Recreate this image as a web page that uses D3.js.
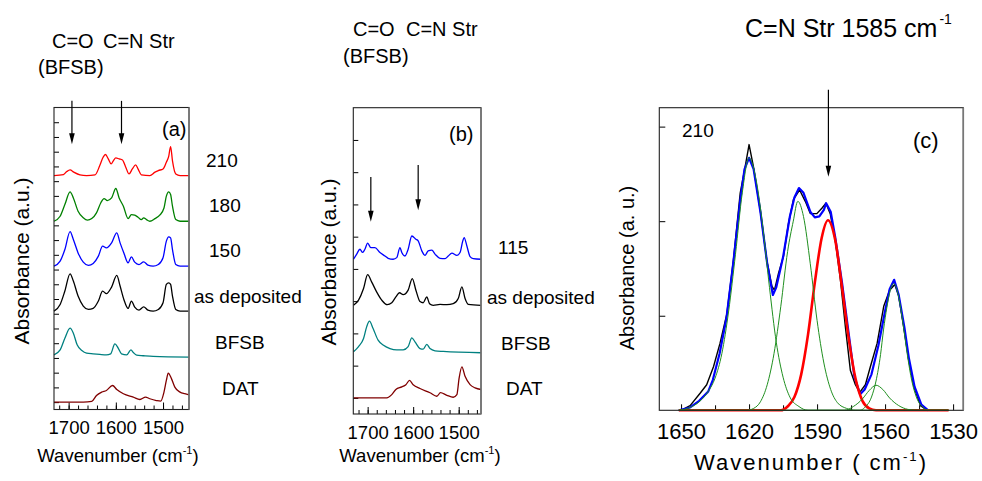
<!DOCTYPE html>
<html>
<head>
<meta charset="utf-8">
<script src="https://cdn.jsdelivr.net/npm/d3@7"></script>
<style>
  body { margin: 0; background: #fff; }
  svg { font-family: "Liberation Sans", Arial, sans-serif; }
</style>
</head>
<body>
<svg id="chart" width="982" height="481"></svg>
<script>
// ---- panel (a): stacked FTIR spectra, [wavenumber, absorbance above own baseline]
const labelsA = ["210", "180", "150", "as deposited", "BFSB", "DAT"];
const colorsA = ["#ff0000", "#008000", "#0000ff", "#000000", "#008080", "#800000"];
const offsetsA = [15.38, 12.28, 9.23, 6.18, 3.1, 0];
const spec210A = [[1731,0],[1711,0.07],[1704,0.27],[1697,0.38],[1689,0.23],[1676,0.05],[1662,0],[1644,0.05],[1634,0.68],[1627,1.24],[1622,1.43],[1616,1.13],[1610,0.79],[1605,1.02],[1600,1.2],[1593,1.13],[1586,1.06],[1579,0.57],[1572,0.11],[1565,0.45],[1558,0.72],[1553,0.45],[1546,0.05],[1528,0],[1517,0.23],[1510,0.34],[1500,0.45],[1493,0.9],[1488,1.3],[1484,1.97],[1480,1.0],[1473,0.11],[1464,0],[1445,0]];
const spec180A = [[1731,0],[1718,0.34],[1708,1.13],[1697,1.99],[1690,1.58],[1680,0.68],[1669,0.23],[1660,0.07],[1651,0.18],[1641,0.57],[1632,1.24],[1625,1.54],[1618,1.4],[1609,1.58],[1600,2.22],[1593,1.58],[1584,1.02],[1574,0.18],[1567,0.45],[1560,0.41],[1553,0.27],[1546,0.11],[1541,0.23],[1535,0.11],[1528,0],[1517,0.18],[1507,0.41],[1498,0.9],[1493,1.7],[1488,1.99],[1484,1.81],[1480,1.02],[1473,0.11],[1464,0],[1445,0]];
const spec150A = [[1731,0],[1718,0.34],[1708,1.13],[1697,2.35],[1690,1.81],[1680,0.9],[1669,0.27],[1658,0.05],[1648,0.18],[1637,0.68],[1628,1.36],[1620,1.24],[1609,1.58],[1598,2.26],[1591,1.58],[1583,0.9],[1574,0.23],[1567,0.63],[1560,0.27],[1551,0.11],[1541,0.29],[1532,0.07],[1521,0],[1510,0.11],[1500,0.57],[1493,1.7],[1488,1.99],[1484,1.92],[1480,1.13],[1473,0.11],[1464,0],[1445,0]];
const specDepA = [[1731,0],[1718,0.45],[1708,1.36],[1697,2.53],[1690,2.04],[1680,1.02],[1669,0.34],[1658,0.11],[1648,0.18],[1637,0.68],[1628,1.36],[1620,1.18],[1609,1.63],[1598,2.42],[1591,1.7],[1583,0.79],[1574,0.18],[1567,0.68],[1560,0.27],[1551,0.07],[1541,0.29],[1532,0.07],[1521,0],[1510,0.11],[1500,0.57],[1493,1.81],[1488,1.92],[1484,1.81],[1480,1.02],[1473,0.11],[1464,0],[1445,0]];
const specBfsbA = [[1731,0.11],[1718,0.45],[1708,1.24],[1697,1.92],[1690,1.58],[1682,0.79],[1672,0.41],[1662,0.23],[1648,0.18],[1634,0.14],[1620,0.11],[1611,0.18],[1602,0.86],[1595,0.57],[1588,0.18],[1577,0.11],[1568,0.45],[1563,0.27],[1556,0.09],[1542,0.05],[1521,0],[1445,-0.05]];
const specDatA = [[1731,0],[1669,0],[1651,0.05],[1641,0.45],[1630,0.68],[1620,0.79],[1607,1.13],[1598,0.86],[1584,0.57],[1563,0.34],[1549,0.18],[1537,0.34],[1528,0.23],[1514,0.11],[1505,0.07],[1498,0.68],[1493,1.47],[1489,1.97],[1482,1.58],[1475,1.02],[1464,0.68],[1454,0.57],[1445,0.5]];
const arrowsA = [[1693, 20.45, 17.5], [1588, 20.45, 17.5]];
const xTicksAB = [1700, 1600, 1500];

// ---- panel (b)
const labelsB = ["115", "as deposited", "BFSB", "DAT"];
const colorsB = ["#0000ff", "#000000", "#008080", "#800000"];
const offsetsB = [4.3, 2.87, 1.43, 0];
const spec115B = [[1731,0],[1724,0.16],[1717,0.31],[1711,0.21],[1706,0.31],[1700,0.5],[1693,0.36],[1684,0.36],[1673,0.21],[1662,0.1],[1655,0.03],[1644,0],[1636,0.05],[1629,0.36],[1625,0.21],[1618,0.1],[1611,0.31],[1603,0.72],[1594,0.62],[1589,0.57],[1581,0.26],[1574,0.12],[1567,0.26],[1559,0.28],[1552,0.16],[1541,0.03],[1530,0.02],[1523,0.1],[1515,0.19],[1504,0.12],[1497,0.21],[1491,0.57],[1488,0.67],[1482,0.41],[1475,0.08],[1468,0.02],[1451,0]];
const specDepB = [[1731,0],[1720,0.16],[1709,0.52],[1700,0.95],[1691,0.72],[1680,0.41],[1669,0.16],[1657,0.02],[1647,0.08],[1638,0.26],[1630,0.39],[1622,0.33],[1611,0.47],[1602,0.83],[1594,0.47],[1585,0.12],[1578,0.08],[1570,0.26],[1564,0.05],[1556,0],[1541,0.03],[1526,0.02],[1512,0.05],[1501,0.21],[1493,0.57],[1486,0.21],[1479,0.03],[1451,0]];
const specBfsbB = [[1731,0],[1720,0.16],[1709,0.41],[1702,0.78],[1696,0.95],[1688,0.72],[1677,0.36],[1666,0.21],[1651,0.1],[1636,0.06],[1622,0.06],[1611,0.16],[1603,0.43],[1596,0.31],[1585,0.1],[1578,0.08],[1570,0.23],[1563,0.1],[1552,0.03],[1534,0.01],[1451,-0.03]];
const specDatB = [[1731,0],[1658,0],[1647,0.1],[1638,0.26],[1625,0.34],[1616,0.41],[1608,0.54],[1600,0.41],[1585,0.29],[1563,0.16],[1548,0.05],[1540,0.16],[1526,0.08],[1512,0.02],[1504,0.1],[1499,0.62],[1493,0.96],[1486,0.67],[1475,0.41],[1464,0.31],[1451,0.26]];
const arrowsB = [[1693, 6.85, 5.46], [1589, 7.22, 5.82]];

// ---- panel (c): peak fit of the 210 spectrum
const measuredC = [[1650,0],[1646,0.05],[1641.6,0.18],[1638.7,0.27],[1635.7,0.46],[1632.8,0.71],[1629.8,1.02],[1626.9,1.59],[1623.9,2.3],[1621.7,2.58],[1620,2.81],[1618.1,2.58],[1615.1,2.12],[1612.2,1.59],[1609.9,1.31],[1608.8,1.27],[1607,1.45],[1604.8,1.63],[1602.6,1.98],[1600.4,2.23],[1597.7,2.33],[1595.2,2.21],[1593,2.08],[1590.1,2.08],[1587.8,2.14],[1586.1,2.19],[1584.2,2.08],[1582,1.8],[1579.7,1.38],[1577.5,0.88],[1575.3,0.42],[1573.1,0.27],[1571.2,0.19],[1568.7,0.27],[1566.5,0.46],[1563.5,0.71],[1560.6,1.1],[1558,1.27],[1555.7,1.33],[1554,1.21],[1551.8,0.88],[1549.6,0.53],[1547.3,0.25],[1544.4,0.05],[1541.5,0]];
const fitSumC = [[1651,0],[1646,0.03],[1642,0.1],[1638,0.2],[1636,0.32],[1633,0.6],[1630,0.97],[1627,1.55],[1624,2.2],[1622,2.55],[1620,2.67],[1618,2.55],[1615,2.1],[1612,1.55],[1609.5,1.22],[1608,1.3],[1605,1.62],[1602,2.05],[1600,2.25],[1598,2.35],[1596,2.3],[1593,2.1],[1591,2.04],[1589,2.05],[1587,2.12],[1586,2.19],[1584,2.1],[1582,1.83],[1579,1.35],[1576,0.8],[1573.5,0.35],[1571,0.17],[1569,0.22],[1566,0.38],[1563,0.68],[1560,1.05],[1558,1.28],[1556,1.38],[1554,1.22],[1551.5,0.88],[1549.5,0.55],[1547,0.25],[1544,0.06],[1541,0]];
const peak1620C = [[1651,0],[1646,0.03],[1642,0.09],[1638,0.2],[1635,0.34],[1632,0.6],[1629,1.05],[1626,1.65],[1623,2.3],[1620,2.67],[1617,2.45],[1614,1.95],[1611,1.3],[1608,0.72],[1605,0.35],[1602,0.14],[1598,0.04],[1594,0],[1532,0]];
const peak1598C = [[1651,0],[1621,0],[1618,0.02],[1615,0.09],[1612,0.27],[1609,0.6],[1606,1.1],[1603,1.68],[1600.5,2.0],[1598.5,2.21],[1596,2.05],[1593,1.55],[1590,0.95],[1587,0.5],[1584,0.22],[1581,0.08],[1577,0.02],[1573,0],[1532,0]];
const peak1585C = [[1651,0],[1606,0],[1603,0.04],[1600,0.14],[1597,0.38],[1594,0.8],[1591,1.35],[1588,1.82],[1585.2,2.01],[1582,1.8],[1579,1.3],[1576,0.75],[1573,0.33],[1570,0.1],[1567,0.02],[1564,0],[1532,0]];
const peak1564C = [[1651,0],[1578,0],[1574,0.04],[1570,0.12],[1567,0.21],[1564,0.265],[1561,0.22],[1558,0.13],[1554,0.05],[1550,0.01],[1546,0],[1532,0]];
const peak1556C = [[1651,0],[1571,0],[1569,0.03],[1566,0.14],[1564,0.31],[1562,0.59],[1560.7,0.85],[1559.2,1.09],[1557.7,1.27],[1556.2,1.34],[1554.7,1.27],[1553.2,1.09],[1551.7,0.85],[1550.2,0.59],[1548.2,0.31],[1546.2,0.14],[1543.2,0.03],[1541,0],[1532,0]];
const xTicksC = [1650, 1620, 1590, 1560, 1530];
const arrowC = [1585, 3.39, 2.47];

const svg = d3.select("#chart");

function txt(x, y, s, size) {
  return svg.append("text").attr("x", x).attr("y", y).attr("font-size", size).attr("fill", "#000").text(s);
}

function frame(g, w, h) {
  g.append("rect").attr("width", w).attr("height", h)
    .attr("fill", "none").attr("stroke", "#222").attr("stroke-width", 1.1);
  g.append("line").attr("x1", w).attr("x2", w).attr("y1", 0).attr("y2", h)
    .attr("stroke", "#777").attr("stroke-width", 1.6);
}

function arrow(g, x, y0, y1) {
  g.append("line").attr("x1", x).attr("x2", x).attr("y1", y0).attr("y2", y1 - 10)
    .attr("stroke", "#000").attr("stroke-width", 1.2);
  g.append("path").attr("d", `M${x - 2.8},${y1 - 11}L${x + 2.8},${y1 - 11}L${x},${y1}Z`).attr("fill", "#000");
}

// d3 axes put font-family="sans-serif" on their group; drop it so the page font applies
function plain(a) {
  a.attr("font-family", null).select(".domain").remove();
}

function stackPanel(cfg) {
  const g = svg.append("g").attr("transform", `translate(${cfg.left},${cfg.top})`);
  const x = d3.scaleLinear().domain(cfg.xDomain).range([0, cfg.width]);
  const y = d3.scaleLinear().domain(cfg.yDomain).range([cfg.height, 0]);

  g.append("g").attr("transform", `translate(0,${cfg.height})`)
    .call(d3.axisBottom(x).tickValues(d3.range(1720, 1440, -20)).tickSize(-4).tickFormat(""))
    .call(plain);
  g.append("g").attr("transform", `translate(0,${cfg.height})`)
    .call(d3.axisBottom(x).tickValues(xTicksAB).tickSize(-7).tickPadding(cfg.labelPad).tickFormat(d3.format("d")))
    .call(plain)
    .call(a => a.selectAll("text").attr("font-size", 18.5));
  g.append("g")
    .call(d3.axisLeft(y).tickValues(d3.range(0, cfg.nTicks)).tickSize(-5).tickFormat(""))
    .call(plain);

  const line = d3.line().curve(d3.curveMonotoneX);
  cfg.spectra.forEach((s, i) => {
    g.append("path")
      .attr("d", line(s.map(d => [x(d[0]), y(d[1] + cfg.offsets[i])])))
      .attr("fill", "none").attr("stroke", cfg.colors[i]).attr("stroke-width", 1.3);
  });
  frame(g, cfg.width, cfg.height);
  cfg.arrows.forEach(a => arrow(g, x(a[0]), y(a[1]), y(a[2])));
  cfg.labels.forEach((l, i) => {
    txt(cfg.labelX[i], cfg.top + y(cfg.offsets[i]) + cfg.labelDy[i], l, 19);
  });
}

stackPanel({
  left: 54, top: 107.5, width: 135, height: 302,
  xDomain: [1731, 1445], yDomain: [-0.5, 20], nTicks: 20, labelPad: 11,
  spectra: [spec210A, spec180A, spec150A, specDepA, specBfsbA, specDatA],
  offsets: offsetsA, colors: colorsA, arrows: arrowsA, labels: labelsA,
  labelX: [206, 209, 209, 194, 215, 222], labelDy: [-9, -9, -9, -8, -7, -7]
});

stackPanel({
  left: 353.3, top: 107.7, width: 127.7, height: 306.3,
  xDomain: [1731.5, 1451], yDomain: [-0.5, 9], nTicks: 9, labelPad: 12,
  spectra: [spec115B, specDepB, specBfsbB, specDatB],
  offsets: offsetsB, colors: colorsB, arrows: arrowsB, labels: labelsB,
  labelX: [498, 487, 501, 506], labelDy: [-5, -1, -2, -3]
});

// panel (a)/(b) texts
txt(52, 48, "C=O", 20); txt(103, 48, "C=N Str", 20); txt(38, 74, "(BFSB)", 20);
txt(353, 36, "C=O", 20); txt(406, 36, "C=N Str", 20); txt(343, 63, "(BFSB)", 20);
txt(162, 136, "(a)", 20);
txt(449, 141, "(b)", 20);

function yLabel(x, y, s, size) {
  svg.append("text").attr("transform", `translate(${x},${y}) rotate(-90)`)
    .attr("text-anchor", "middle").attr("font-size", size).text(s);
}
yLabel(29, 261, "Absorbance (a.u.)", 21);
yLabel(336, 262, "Absorbance (a.u.)", 21);
yLabel(634, 268, "Absorbance (a. u.)", 20);

function xLabel(x, y, size, pre, spacing) {
  const t = svg.append("text").attr("x", x).attr("y", y).attr("text-anchor", "middle")
    .attr("font-size", size).attr("letter-spacing", spacing);
  t.append("tspan").text(pre);
  t.append("tspan").attr("font-size", size * 0.6).attr("dy", -size * 0.42).text("-1");
  t.append("tspan").attr("dy", size * 0.42).text(")");
}
xLabel(118, 462, 18.5, "Wavenumber (cm", 0);
xLabel(420, 462, 18.5, "Wavenumber (cm", 0);
xLabel(811, 470, 22, "Wavenumber ( cm", 2);

// ---- panel (c)
(function () {
  const left = 659.3, top = 107.7, width = 304, height = 302.6;
  const g = svg.append("g").attr("transform", `translate(${left},${top})`);
  const x = d3.scaleLinear().domain([1659.6, 1525.5]).range([0, width]);
  const y = d3.scaleLinear().domain([0, 3.2]).range([height, 0]);

  g.append("g").attr("transform", `translate(0,${height})`)
    .call(d3.axisBottom(x).tickValues(d3.range(1635, 1540, -30)).tickSize(-5).tickFormat(""))
    .call(plain);
  g.append("g").attr("transform", `translate(0,${height})`)
    .call(d3.axisBottom(x).tickValues(xTicksC).tickSize(-6).tickPadding(13).tickFormat(d3.format("d")))
    .call(plain)
    .call(a => a.selectAll("text").attr("font-size", 22));
  g.append("g")
    .call(d3.axisLeft(y).tickValues([1, 2, 3]).tickSize(-6).tickFormat(""))
    .call(plain);

  const lin = d3.line().x(d => x(d[0])).y(d => y(d[1]));
  const smooth = d3.line().curve(d3.curveMonotoneX).x(d => x(d[0])).y(d => y(d[1]));
  const draw = (gen, data, color, w) => g.append("path").attr("d", gen(data))
    .attr("fill", "none").attr("stroke", color).attr("stroke-width", w).attr("stroke-linejoin", "round");

  draw(lin, measuredC, "#000", 1.4);
  draw(lin, fitSumC, "#0000ff", 2.2);
  draw(smooth, peak1585C, "#ff0000", 2.6);
  draw(smooth, peak1620C, "#1f8f1f", 1);
  draw(smooth, peak1598C, "#1f8f1f", 1);
  draw(smooth, peak1564C, "#1f8f1f", 1);
  draw(smooth, peak1556C, "#1f8f1f", 1);

  frame(g, width, height);
  arrow(g, x(arrowC[0]), y(arrowC[1]), y(arrowC[2]));
})();

txt(682, 137, "210", 19);
txt(913, 148, "(c)", 22);
const head = svg.append("text").attr("x", 745).attr("y", 37).attr("font-size", 25);
head.append("tspan").text("C=N Str 1585 cm");
head.append("tspan").attr("font-size", 14).attr("dy", -13).attr("dx", 2).text("-1");
</script>
</body>
</html>
